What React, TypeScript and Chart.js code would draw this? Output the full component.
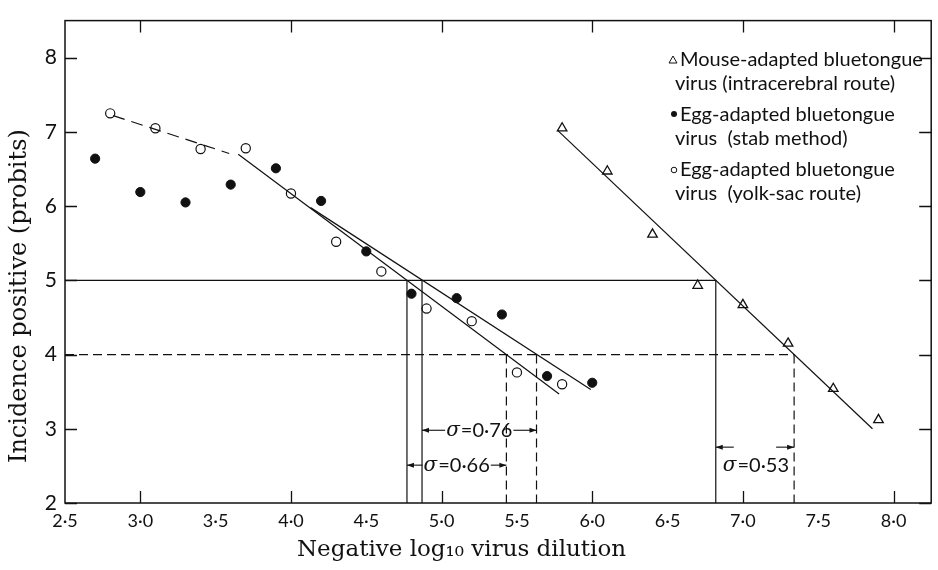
import React, { useEffect, useRef } from 'react';
import { Chart, registerables } from 'chart.js';

Chart.register(...registerables);

// ---- Data ----
const xTickValues = [2.5, 3.0, 3.5, 4.0, 4.5, 5.0, 5.5, 6.0, 6.5, 7.0, 7.5, 8.0];
const yTickValues = [2, 3, 4, 5, 6, 7, 8];
const majorXTicks = [3, 4, 5, 6, 7, 8];

const mouseX = [5.8, 6.1, 6.4, 6.7, 7.0, 7.3, 7.6, 7.9];
const mouseY = [7.05, 6.47, 5.62, 4.93, 4.67, 4.15, 3.54, 3.12];

const stabX = [2.7, 3.0, 3.3, 3.6, 3.9, 4.2, 4.5, 4.8, 5.1, 5.4, 5.7, 6.0];
const stabY = [6.64, 6.19, 6.05, 6.29, 6.51, 6.07, 5.39, 4.82, 4.76, 4.54, 3.71, 3.62];

const yolkX = [2.8, 3.1, 3.4, 3.7, 4.0, 4.3, 4.6, 4.9, 5.2, 5.5, 5.8];
const yolkY = [7.25, 7.05, 6.77, 6.78, 6.17, 5.52, 5.12, 4.62, 4.45, 3.76, 3.6];

// fitted lines (end points)
const mouseFitX = [5.77, 7.86];
const mouseFitY = [7.02, 3.0];
const stabFitX = [4.13, 5.99];
const stabFitY = [5.98, 3.53];
const yolkFitX = [3.65, 5.78];
const yolkFitY = [6.7, 3.47];
const yolkDashX = [2.82, 3.59];
const yolkDashY = [7.22, 6.71];

// intercepts at probit 5 and probit 4
const probit5 = 5;
const probit4 = 4;
const ld50X = [4.77, 4.87, 6.82]; // yolk, stab, mouse
const ld16X = [5.43, 5.63, 7.34]; // yolk, stab, mouse
const sigmaLabels = ['0·66', '0·76', '0·53'];
const sigmaRowY = [2.51, 2.98, 2.51];

const legendLines = [
  ['Mouse-adapted bluetongue', 'virus (intracerebral route)'],
  ['Egg-adapted bluetongue', 'virus  (stab method)'],
  ['Egg-adapted bluetongue', 'virus  (yolk-sac route)'],
];

const X_MIN = 2.5;
const X_MAX = 8.25;
const Y_MIN = 2;
const Y_MAX = 8.5;

const SANS = 'Lato, "Open Sans", sans-serif';
const SERIF = '"DejaVu Serif", serif';
const INK = '#111';

const pts = (xs: number[], ys: number[]) => xs.map((x, i) => ({ x, y: ys[i] }));
const fmt = (v: number) => v.toFixed(1).replace('.', '·');

function lineDs(data: { x: number; y: number }[], dash: number[] = []) {
  return {
    type: 'line' as const,
    data,
    showLine: true,
    borderColor: INK,
    borderWidth: 1.2,
    borderDash: dash,
    pointRadius: 0,
    fill: false,
    tension: 0,
  };
}

const overlayPlugin = {
  id: 'overlay',
  afterDraw(chart: any) {
    const ctx = chart.ctx as CanvasRenderingContext2D;
    const xs = chart.scales.x;
    const ys = chart.scales.y;
    const a = chart.chartArea;
    const X = (v: number) => xs.getPixelForValue(v);
    const Y = (v: number) => ys.getPixelForValue(v);
    ctx.save();
    // frame
    ctx.strokeStyle = INK;
    ctx.lineWidth = 1.5;
    ctx.strokeRect(a.left, a.top, a.right - a.left, a.bottom - a.top);
    // inward ticks
    ctx.lineWidth = 1.3;
    ctx.beginPath();
    majorXTicks.forEach((v) => {
      const px = Math.round(X(v)) + 0.5;
      ctx.moveTo(px, a.bottom);
      ctx.lineTo(px, a.bottom - 12);
      ctx.moveTo(px, a.top);
      ctx.lineTo(px, a.top + 12);
    });
    yTickValues.forEach((v) => {
      const py = Math.round(Y(v)) + 0.5;
      ctx.moveTo(a.left, py);
      ctx.lineTo(a.left + 12, py);
      ctx.moveTo(a.right, py);
      ctx.lineTo(a.right - 12, py);
    });
    ctx.stroke();

    // sigma annotations
    const arrow = (x1: number, x2: number, y: number, headAt: number) => {
      ctx.beginPath();
      ctx.moveTo(x1, y);
      ctx.lineTo(x2, y);
      ctx.lineWidth = 1.1;
      ctx.stroke();
      const dir = headAt === x1 ? 1 : -1;
      ctx.beginPath();
      ctx.moveTo(headAt, y);
      ctx.lineTo(headAt + dir * 7, y - 2.5);
      ctx.lineTo(headAt + dir * 7, y + 2.5);
      ctx.closePath();
      ctx.fill();
    };
    ctx.fillStyle = INK;
    const drawSigma = (cx: number, cy: number, label: string) => {
      ctx.textBaseline = 'middle';
      ctx.font = `italic 20px ${SERIF}`;
      const sw = ctx.measureText('σ').width;
      ctx.font = `20px ${SANS}`;
      const tw = ctx.measureText('=' + label).width;
      const total = sw + 1 + tw;
      const x0 = cx - total / 2;
      ctx.font = `italic 20px ${SERIF}`;
      ctx.textAlign = 'left';
      ctx.fillText('σ', x0, cy + 1);
      ctx.font = `20px ${SANS}`;
      ctx.fillText('=' + label, x0 + sw + 1, cy);
      return [x0, x0 + total];
    };
    // 0.66 (yolk) and 0.76 (stab): arrows on the same row
    [0, 1].forEach((i) => {
      const l = X(ld50X[i]);
      const r = X(ld16X[i]);
      const cy = Y(sigmaRowY[i]);
      const [t0, t1] = drawSigma((l + r) / 2, cy, sigmaLabels[i]);
      arrow(l, t0 - 1, cy, l);
      arrow(t1 + 1, r, cy, r);
    });
    // 0.53 (mouse): arrows above the text
    {
      const l = X(ld50X[2]);
      const r = X(ld16X[2]);
      const cy = Y(sigmaRowY[2]);
      const ay = cy - 18;
      drawSigma((l + r) / 2 + 1, cy, sigmaLabels[2]);
      arrow(l, l + 18, ay, l);
      arrow(r - 18, r, ay, r);
    }

    // legend
    const lx = 680;
    const rowsY = [60, 115, 170];
    ctx.font = `20px ${SANS}`;
    ctx.textAlign = 'left';
    ctx.textBaseline = 'middle';
    legendLines.forEach((lines, i) => {
      const y0 = rowsY[i];
      ctx.fillText(lines[0], lx, y0);
      ctx.fillText(lines[1], lx - 5, y0 + 24);
    });
    // legend markers
    ctx.lineWidth = 1;
    ctx.beginPath();
    ctx.moveTo(673, 56);
    ctx.lineTo(677, 63);
    ctx.lineTo(669, 63);
    ctx.closePath();
    ctx.stroke();
    ctx.beginPath();
    ctx.arc(674, 114, 3, 0, Math.PI * 2);
    ctx.fill();
    ctx.beginPath();
    ctx.arc(674, 170, 2.8, 0, Math.PI * 2);
    ctx.stroke();
    ctx.restore();
  },
};

export default function App() {
  const ref = useRef<HTMLCanvasElement | null>(null);
  useEffect(() => {
    if (!ref.current) return;
    const datasets: any[] = [
      lineDs(pts(mouseFitX, mouseFitY)),
      lineDs(pts(stabFitX, stabFitY)),
      lineDs(pts(yolkFitX, yolkFitY)),
      lineDs(pts(yolkDashX, yolkDashY), [12, 7]),
      // reference lines
      lineDs([{ x: X_MIN, y: probit5 }, { x: ld50X[2], y: probit5 }]),
      lineDs([{ x: X_MIN, y: probit4 }, { x: ld16X[2], y: probit4 }], [9, 5]),
      ...ld50X.map((v) => lineDs([{ x: v, y: probit5 }, { x: v, y: Y_MIN }])),
      ...ld16X.map((v) => lineDs([{ x: v, y: probit4 }, { x: v, y: Y_MIN }], [9, 5])),
      {
        type: 'scatter',
        data: pts(mouseX, mouseY),
        pointStyle: 'triangle',
        pointRadius: 5.5,
        backgroundColor: '#fff',
        borderColor: INK,
        borderWidth: 1.3,
      },
      {
        type: 'scatter',
        data: pts(stabX, stabY),
        pointStyle: 'circle',
        pointRadius: 4.6,
        backgroundColor: INK,
        borderColor: INK,
        borderWidth: 1,
      },
      {
        type: 'scatter',
        data: pts(yolkX, yolkY),
        pointStyle: 'circle',
        pointRadius: 4.6,
        backgroundColor: '#fff',
        borderColor: INK,
        borderWidth: 1.2,
      },
    ];
    const chart = new Chart(ref.current, {
      type: 'scatter',
      data: { datasets },
      options: {
        animation: false,
        responsive: false,
        maintainAspectRatio: false,
        layout: { padding: { top: 5, right: 5, left: 0, bottom: 0 } },
        plugins: { legend: { display: false }, tooltip: { enabled: false } },
        scales: {
          x: {
            type: 'linear',
            min: X_MIN,
            max: X_MAX,
            afterBuildTicks: (s: any) => {
              s.ticks = xTickValues.map((v) => ({ value: v }));
            },
            afterFit: (s: any) => {
              s.height = 67;
            },
            grid: { display: false, drawTicks: false },
            border: { display: false },
            ticks: {
              callback: (v: any) => fmt(Number(v)),
              font: { family: SANS, size: 18 },
              color: INK,
              padding: 7,
              maxRotation: 0,
              autoSkip: false,
            },
            title: {
              display: true,
              // trailing spaces shift the centred title left, as in the original
              text: 'Negative log₁₀ virus dilution          ',
              font: { family: SERIF, size: 23 },
              color: INK,
              padding: { top: 0, bottom: 6 },
            },
          },
          y: {
            type: 'linear',
            min: Y_MIN,
            max: Y_MAX,
            afterBuildTicks: (s: any) => {
              s.ticks = yTickValues.map((v) => ({ value: v }));
            },
            afterFit: (s: any) => {
              s.width = 65;
            },
            grid: { display: false, drawTicks: false },
            border: { display: false },
            ticks: {
              callback: (v: any) => String(v),
              font: { family: SANS, size: 21 },
              color: INK,
              padding: 8,
            },
            title: {
              display: true,
              text: 'Incidence positive (probits)         ',
              font: { family: SERIF, size: 24 },
              color: INK,
              padding: { top: 5, bottom: 0 },
            },
          },
        },
      },
      plugins: [overlayPlugin],
    });
    return () => chart.destroy();
  }, []);
  return (
    <div style={{ position: 'absolute', left: 0, top: 0, width: 938, height: 570, background: '#fff' }}>
      <canvas ref={ref} width={938} height={570} style={{ width: 938, height: 570 }} />
    </div>
  );
}
